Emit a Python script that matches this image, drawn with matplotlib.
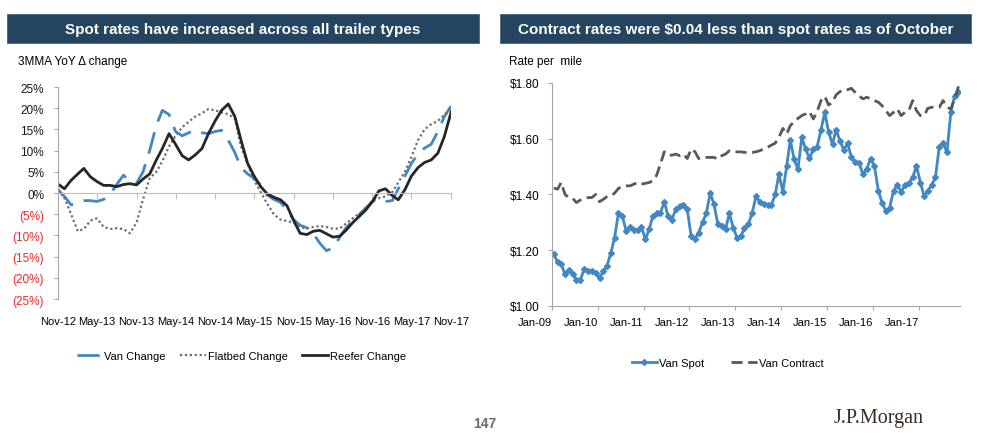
import matplotlib
import matplotlib.pyplot as plt
import pandas as pd
from matplotlib.patches import Rectangle

matplotlib.use("Agg")

plt.rcParams["font.family"] = ["Liberation Sans", "DejaVu Sans"]

# Left chart: 3MMA YoY change (%), monthly Nov-12 .. Nov-17
van_change = [
    0.8, -0.8, -2.8, -2.5, -1.8, -1.8, -2.0, -1.5, -0.3, 2.0, 4.2, 2.8, 2.3,
    5.0, 10.0, 16.0, 19.5, 18.5, 14.5, 13.5, 14.2, 14.8, 14.2, 14.0, 14.5,
    14.8, 12.5, 9.5, 6.0, 4.5, 3.5, 1.8, -0.5, -1.5, -2.2, -4.0, -6.3, -7.6,
    -8.2, -9.6, -11.8, -13.6, -13.0, -10.5, -8.2, -6.6, -5.1, -3.5, -2.0,
    -1.6, -2.0, -1.8, 1.0, 4.0, 7.0, 9.2, 10.6, 11.5, 14.5, 18.0, 20.5,
]
flatbed_change = [
    0.8, -1.2, -5.0, -9.0, -8.5, -6.5, -6.0, -8.0, -8.5, -8.3, -8.5, -9.5,
    -7.0, -1.5, 3.5, 5.0, 7.5, 11.0, 13.5, 15.5, 16.8, 18.0, 18.8, 19.8,
    19.5, 19.0, 18.6, 17.5, 11.0, 6.8, 3.0, 0.2, -2.5, -5.0, -6.3, -6.6,
    -7.0, -8.0, -8.4, -8.0, -7.8, -8.0, -8.4, -8.4, -7.2, -6.0, -4.8, -3.9,
    -1.8, -1.2, -0.8, 0.2, 2.5, 5.0, 8.5, 12.5, 15.0, 16.2, 17.0, 18.4, 19.9,
]
reefer_change = [
    2.1, 1.0, 3.0, 4.5, 5.8, 3.8, 2.7, 1.8, 1.8, 1.5, 2.0, 2.2, 1.9, 3.3,
    4.5, 7.8, 10.5, 14.0, 11.5, 8.8, 7.8, 9.0, 10.5, 14.0, 17.0, 19.5, 21.0,
    18.0, 12.5, 7.0, 4.0, 1.5, -0.2, -1.0, -1.6, -3.0, -6.5, -9.5, -9.8,
    -9.0, -8.8, -9.6, -10.4, -10.2, -8.8, -7.0, -5.5, -4.0, -2.0, 0.5, 1.0,
    -0.6, -1.6, 0.8, 4.0, 6.0, 7.2, 7.8, 9.4, 13.3, 19.0,
]
left_xticklabels = ["Nov-12", "May-13", "Nov-13", "May-14", "Nov-14", "May-15",
                    "Nov-15", "May-16", "Nov-16", "May-17", "Nov-17"]
left_yticks = [25, 20, 15, 10, 5, 0, -5, -10, -15, -20, -25]

# Right chart: rate per mile ($), monthly Jan-09 .. Nov-17
van_spot = [
    1.186, 1.156, 1.150, 1.114, 1.130, 1.114, 1.093, 1.093, 1.134, 1.126,
    1.126, 1.117, 1.100, 1.126, 1.144, 1.190, 1.245, 1.335, 1.323, 1.270,
    1.285, 1.273, 1.273, 1.284, 1.240, 1.275, 1.323, 1.333, 1.333, 1.374,
    1.323, 1.310, 1.347, 1.357, 1.362, 1.347, 1.250, 1.242, 1.263, 1.300,
    1.333, 1.405, 1.365, 1.293, 1.287, 1.275, 1.333, 1.281, 1.245, 1.250,
    1.280, 1.293, 1.333, 1.393, 1.374, 1.365, 1.362, 1.362, 1.400, 1.473,
    1.410, 1.503, 1.596, 1.527, 1.490, 1.605, 1.563, 1.530, 1.563, 1.571,
    1.632, 1.695, 1.623, 1.580, 1.632, 1.593, 1.560, 1.584, 1.533, 1.515,
    1.513, 1.473, 1.493, 1.527, 1.503, 1.413, 1.371, 1.341, 1.353, 1.413,
    1.434, 1.410, 1.434, 1.441, 1.461, 1.503, 1.443, 1.393, 1.413, 1.434,
    1.461, 1.572, 1.584, 1.551, 1.695, 1.755, 1.769,
]
van_contract = [
    1.423, 1.419, 1.443, 1.400, 1.389, 1.386, 1.371, 1.380, 1.383, 1.389,
    1.389, 1.400, 1.374, 1.383, 1.392, 1.395, 1.405, 1.422, 1.429, 1.431,
    1.431, 1.437, 1.443, 1.437, 1.440, 1.443, 1.449, 1.469, 1.509, 1.553,
    1.541, 1.541, 1.545, 1.539, 1.545, 1.529, 1.563, 1.553, 1.529, 1.533,
    1.533, 1.533, 1.533, 1.527, 1.539, 1.545, 1.557, 1.553, 1.553, 1.553,
    1.551, 1.551, 1.551, 1.553, 1.557, 1.563, 1.569, 1.577, 1.584, 1.605,
    1.637, 1.617, 1.647, 1.661, 1.673, 1.683, 1.689, 1.697, 1.671, 1.697,
    1.737, 1.752, 1.721, 1.731, 1.757, 1.769, 1.776, 1.776, 1.781, 1.766,
    1.754, 1.743, 1.749, 1.743, 1.737, 1.731, 1.719, 1.701, 1.683, 1.695,
    1.707, 1.683, 1.695, 1.701, 1.737, 1.701, 1.683, 1.683, 1.709, 1.713,
    1.713, 1.713, 1.737, 1.713, 1.707, 1.743, 1.788,
]
right_xticklabels = ["Jan-09", "Jan-10", "Jan-11", "Jan-12", "Jan-13",
                     "Jan-14", "Jan-15", "Jan-16", "Jan-17"]
right_yticks = [1.00, 1.20, 1.40, 1.60, 1.80]

NAVY = "#24445f"
BLUE = "#4187c3"
AXIS_GRAY = "#a6a6a6"
XTICK_FS = 8
YTICK_FS = 8.5

fig = plt.figure(figsize=(10, 4.35), dpi=100)

# Title bars
for x0, w, text in [
    (0.007, 0.472, "Spot rates have increased across all trailer types"),
    (0.500, 0.471, r"Contract rates were \$0.04 less than spot rates as of October"),
]:
    fig.patches.append(Rectangle((x0, 0.899), w, 0.0667, transform=fig.transFigure,
                                 facecolor=NAVY, edgecolor="#4a6580", linewidth=0.6))
    fig.text(x0 + w / 2, 0.932, text, ha="center", va="center", color="white",
             fontsize=11, fontweight="bold")

fig.text(0.018, 0.857, "3MMA YoY \u0394 change", ha="left", va="center", fontsize=8.5)
fig.text(0.509, 0.857, "Rate per  mile", ha="left", va="center", fontsize=8.5)

# ---- Left chart
ax1 = fig.add_axes([0.058, 0.3103, 0.393, 0.4874])
left_months = pd.date_range("2012-11-01", periods=len(van_change), freq="MS")
ax1.plot(left_months, van_change, color=BLUE, linewidth=2, dashes=(8, 4), label="Van Change")
ax1.plot(left_months, flatbed_change, color="#6e6e6e", linewidth=1.6, linestyle=(0, (1, 1.2)),
         label="Flatbed Change")
ax1.plot(left_months, reefer_change, color="#262626", linewidth=2, label="Reefer Change")

ax1.set_xlim(left_months[0], left_months[-1])
ax1.set_ylim(-25, 25)
ax1.set_yticks(left_yticks)
ax1.set_yticklabels([f"{v}%" if v >= 0 else f"({-v}%)" for v in left_yticks])
for lbl, v in zip(ax1.get_yticklabels(), left_yticks):
    lbl.set_color("#ee2a2a" if v < 0 else "#1a1a1a")

for side in ["top", "right"]:
    ax1.spines[side].set_visible(False)
ax1.spines["left"].set_color(AXIS_GRAY)
ax1.spines["bottom"].set_position(("data", 0))
ax1.spines["bottom"].set_color("#bfbfbf")
ax1.set_xticks(left_months[::6])
ax1.tick_params(axis="x", length=4, color="#bfbfbf", labelbottom=False)
ax1.tick_params(axis="y", length=3, color=AXIS_GRAY, labelsize=YTICK_FS, pad=7)

sec = ax1.secondary_xaxis(0)
sec.set_xticks(left_months[::6])
sec.set_xticklabels(left_xticklabels)
sec.tick_params(length=0, labelsize=XTICK_FS, pad=12)
sec.spines["bottom"].set_visible(False)

fig.legend(*ax1.get_legend_handles_labels(), loc="center", bbox_to_anchor=(0.2415, 0.179),
           ncol=3, frameon=False, fontsize=8, handlelength=2.3, handletextpad=0.2,
           columnspacing=1.3)

# ---- Right chart
ax2 = fig.add_axes([0.552, 0.2943, 0.408, 0.5126])
right_months = pd.date_range("2009-01-01", periods=len(van_spot), freq="MS") + pd.Timedelta(days=14)
ax2.plot(right_months, van_spot, color=BLUE, linewidth=2, marker="D", markersize=3,
         label="Van Spot")
ax2.plot(right_months, van_contract, color="#595959", linewidth=2, dashes=(4, 2),
         label="Van Contract")

ax2.set_xlim(pd.Timestamp("2009-01-01"), pd.Timestamp("2017-11-27"))
ax2.set_ylim(1.0, 1.8)
ax2.set_yticks(right_yticks)
ax2.set_yticklabels([rf"\${v:.2f}" for v in right_yticks])
year_ticks = pd.date_range("2009-01-01", periods=len(right_xticklabels), freq="YS")
ax2.set_xticks(year_ticks)
ax2.set_xticklabels(right_xticklabels, ha="right")

for side in ["top", "right"]:
    ax2.spines[side].set_visible(False)
for side in ["left", "bottom"]:
    ax2.spines[side].set_color(AXIS_GRAY)
ax2.tick_params(axis="both", length=3, color=AXIS_GRAY)
ax2.tick_params(axis="y", pad=6, labelsize=YTICK_FS)
ax2.tick_params(axis="x", pad=5, labelsize=XTICK_FS)

fig.legend(*ax2.get_legend_handles_labels(), loc="center", bbox_to_anchor=(0.7275, 0.163),
           ncol=2, frameon=False, fontsize=8, handlelength=2.3, handletextpad=0.2,
           columnspacing=2.4)

# Footer
fig.text(0.485, 0.025, "147", ha="center", va="center", fontsize=10, fontweight="bold",
         color="#6b6b6b")
fig.text(0.8785, 0.039, "J.P.Morgan", ha="center", va="center", fontsize=14.5,
         color="#3d2b1f", family=["Liberation Serif", "DejaVu Serif"])

fig.savefig("out.png", dpi=100)
